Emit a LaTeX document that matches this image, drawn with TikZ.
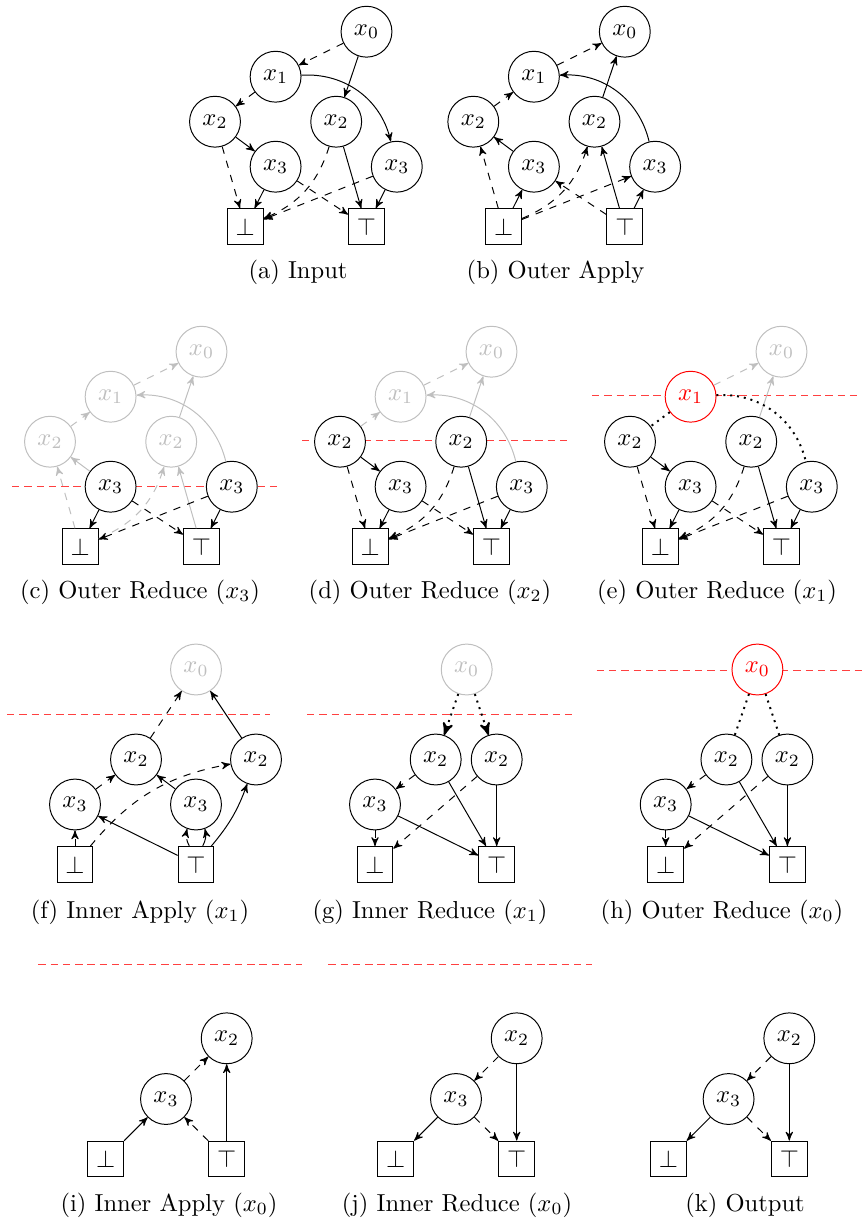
\documentclass[tikz,border=0pt]{standalone}
\usetikzlibrary{arrows}
\tikzset{
  var/.style={circle,draw,fill=white,minimum size=20.7pt,inner sep=0pt},
  term/.style={rectangle,draw,fill=white,minimum size=14.6pt},
  faded/.style={draw=gray!50,text=gray!50},
  picked/.style={draw=red,text=red},
  lo/.style={->,dashed},
  hi/.style={->},
  link/.style={thick,dotted},
  cut/.style={red!75,densely dashed},
}
\begin{document}
\begin{tikzpicture}[x=0.407pt,y=-0.407pt,>=stealth']
  \useasboundingbox (0,0) rectangle (861,1223);
  % (a) input
  \begin{scope}[shift={(215,31.7)}]
    \node[var] (x0) at (151.5,0) {$x_0$};
    \node[var] (x1) at (60.6,45) {$x_1$};
    \node[var] (x2a) at (0,90) {$x_2$};
    \node[var] (x2b) at (121.2,90) {$x_2$};
    \node[var] (x3a) at (60.6,135) {$x_3$};
    \node[var] (x3b) at (181.8,135) {$x_3$};
    \node[term] (f) at (30.3,195) {$\bot$};
    \node[term] (t) at (151.5,195) {$\top$};
    \draw[lo] (x0) -- (x1);
    \draw[hi] (x0) -- (x2b);
    \draw[lo] (x1) -- (x2a);
    \draw[hi] (x1) to[bend left=40] (x3b);
    \draw[hi] (x2a) -- (x3a);
    \draw[lo] (x2a) -- (f);
    \draw[lo] (x2b) to[bend left=25] (f);
    \draw[hi] (x2b) -- (t);
    \draw[hi] (x3a) -- (f);
    \draw[lo] (x3a) -- (t);
    \draw[lo] (x3b) -- (f);
    \draw[hi] (x3b) -- (t);
  \end{scope}
  \node (capa) at (298,272) {(a) Input};
  % (b) outer apply
  \begin{scope}[shift={(473.3,31.7)}]
    \node[var] (x0) at (151.5,0) {$x_0$};
    \node[var] (x1) at (60.6,45) {$x_1$};
    \node[var] (x2a) at (0,90) {$x_2$};
    \node[var] (x2b) at (121.2,90) {$x_2$};
    \node[var] (x3a) at (60.6,135) {$x_3$};
    \node[var] (x3b) at (181.8,135) {$x_3$};
    \node[term] (f) at (30.3,195) {$\bot$};
    \node[term] (t) at (151.5,195) {$\top$};
    \draw[lo] (x1) -- (x0);
    \draw[hi] (x2b) -- (x0);
    \draw[lo] (x2a) -- (x1);
    \draw[hi] (x3b) to[bend right=40] (x1);
    \draw[hi] (x3a) -- (x2a);
    \draw[lo] (f) -- (x2a);
    \draw[lo] (f) to[bend right=25] (x2b);
    \draw[hi] (t) -- (x2b);
    \draw[hi] (f) -- (x3a);
    \draw[lo] (t) -- (x3a);
    \draw[lo] (f) -- (x3b);
    \draw[hi] (t) -- (x3b);
  \end{scope}
  \node (capb) at (555.5,272) {(b) Outer Apply};
  % (c) outer reduce x3
  \begin{scope}[shift={(50,351.7)}]
    \draw[cut] (-38,135) -- (227,135);
    \node[var,faded] (x0) at (151.5,0) {$x_0$};
    \node[var,faded] (x1) at (60.6,45) {$x_1$};
    \node[var,faded] (x2a) at (0,90) {$x_2$};
    \node[var,faded] (x2b) at (121.2,90) {$x_2$};
    \node[var] (x3a) at (60.6,135) {$x_3$};
    \node[var] (x3b) at (181.8,135) {$x_3$};
    \node[term] (f) at (30.3,195) {$\bot$};
    \node[term] (t) at (151.5,195) {$\top$};
    \draw[lo,gray!50] (x1) -- (x0);
    \draw[hi,gray!50] (x2b) -- (x0);
    \draw[lo,gray!50] (x2a) -- (x1);
    \draw[hi,gray!50] (x3b) to[bend right=40] (x1);
    \draw[hi,gray!50] (x3a) -- (x2a);
    \draw[lo,gray!50] (f) -- (x2a);
    \draw[lo,gray!50] (f) to[bend right=25] (x2b);
    \draw[hi,gray!50] (t) -- (x2b);
    \draw[hi] (x3a) -- (f);
    \draw[lo] (x3a) -- (t);
    \draw[lo] (x3b) -- (f);
    \draw[hi] (x3b) -- (t);
  \end{scope}
  \node (capc) at (140,592) {(c) Outer Reduce ($x_3$)};
  % (d) outer reduce x2
  \begin{scope}[shift={(340,351.7)}]
    \draw[cut] (-38,88.5) -- (227,88.5);
    \node[var,faded] (x0) at (151.5,0) {$x_0$};
    \node[var,faded] (x1) at (60.6,45) {$x_1$};
    \node[var] (x2a) at (0,90) {$x_2$};
    \node[var] (x2b) at (121.2,90) {$x_2$};
    \node[var] (x3a) at (60.6,135) {$x_3$};
    \node[var] (x3b) at (181.8,135) {$x_3$};
    \node[term] (f) at (30.3,195) {$\bot$};
    \node[term] (t) at (151.5,195) {$\top$};
    \draw[lo,gray!50] (x1) -- (x0);
    \draw[hi,gray!50] (x2b) -- (x0);
    \draw[lo,gray!50] (x2a) -- (x1);
    \draw[hi,gray!50] (x3b) to[bend right=40] (x1);
    \draw[hi] (x2a) -- (x3a);
    \draw[lo] (x2a) -- (f);
    \draw[lo] (x2b) to[bend left=25] (f);
    \draw[hi] (x2b) -- (t);
    \draw[hi] (x3a) -- (f);
    \draw[lo] (x3a) -- (t);
    \draw[lo] (x3b) -- (f);
    \draw[hi] (x3b) -- (t);
  \end{scope}
  \node (capd) at (430,592) {(d) Outer Reduce ($x_2$)};
  % (e) outer reduce x1
  \begin{scope}[shift={(630,351.7)}]
    \draw[cut] (-38,43.5) -- (227,43.5);
    \node[var,faded] (x0) at (151.5,0) {$x_0$};
    \node[var,picked] (x1) at (60.6,45) {$x_1$};
    \node[var] (x2a) at (0,90) {$x_2$};
    \node[var] (x2b) at (121.2,90) {$x_2$};
    \node[var] (x3a) at (60.6,135) {$x_3$};
    \node[var] (x3b) at (181.8,135) {$x_3$};
    \node[term] (f) at (30.3,195) {$\bot$};
    \node[term] (t) at (151.5,195) {$\top$};
    \draw[lo,gray!50] (x1) -- (x0);
    \draw[hi,gray!50] (x2b) -- (x0);
    \draw[link] (x1) -- (x2a);
    \draw[link] (x1) to[bend left=40] (x3b);
    \draw[hi] (x2a) -- (x3a);
    \draw[lo] (x2a) -- (f);
    \draw[lo] (x2b) to[bend left=25] (f);
    \draw[hi] (x2b) -- (t);
    \draw[hi] (x3a) -- (f);
    \draw[lo] (x3a) -- (t);
    \draw[lo] (x3b) -- (f);
    \draw[hi] (x3b) -- (t);
  \end{scope}
  \node (cape) at (717,592) {(e) Outer Reduce ($x_1$)};
  % (f) inner apply x1
  \begin{scope}[shift={(75,669.5)}]
    \draw[cut] (-68,44.5) -- (195,44.5);
    \node[var,faded] (x0) at (121,0) {$x_0$};
    \node[var] (x2a) at (61,90) {$x_2$};
    \node[var] (x2b) at (181,90) {$x_2$};
    \node[var] (x3a) at (0,135) {$x_3$};
    \node[var] (x3b) at (121,135) {$x_3$};
    \node[term] (f) at (0,195) {$\bot$};
    \node[term] (t) at (121,195) {$\top$};
    \draw[lo] (x2a) -- (x0);
    \draw[hi] (x2b) -- (x0);
    \draw[lo] (x3a) -- (x2a);
    \draw[lo] (f) -- (x3a);
    \draw[lo] (f) to[bend left=20] (x2b);
    \draw[hi] (t) -- (x3a);
    \draw[hi] (x3b) -- (x2a);
    \draw[lo] (t) to[bend left=20] (x3b);
    \draw[hi] (t) to[bend right=20] (x3b);
    \draw[hi] (t) to[bend right=10] (x2b);
  \end{scope}
  \node (capf) at (140,912) {(f) Inner Apply ($x_1$)};
  % (g) inner reduce x1
  \begin{scope}[shift={(375,669.5)}]
    \draw[cut] (-68,44.5) -- (197,44.5);
    \node[var,faded] (x0) at (91.7,0) {$x_0$};
    \node[var] (x2a) at (60.7,90) {$x_2$};
    \node[var] (x2b) at (121.7,90) {$x_2$};
    \node[var] (x3) at (0,135) {$x_3$};
    \node[term] (f) at (0,195) {$\bot$};
    \node[term] (t) at (121.7,195) {$\top$};
    \draw[link,->] (x0) -- (x2a);
    \draw[link,->] (x0) -- (x2b);
    \draw[lo] (x2a) -- (x3);
    \draw[hi] (x2a) -- (t);
    \draw[lo] (x2b) -- (f);
    \draw[hi] (x2b) -- (t);
    \draw[lo] (x3) -- (f);
    \draw[hi] (x3) -- (t);
  \end{scope}
  \node (capg) at (430,912) {(g) Inner Reduce ($x_1$)};
  % (h) outer reduce x0
  \begin{scope}[shift={(665.7,669.5)}]
    \draw[cut] (-69,0.5) -- (196,0.5);
    \node[var,picked] (x0) at (91.7,0) {$x_0$};
    \node[var] (x2a) at (60.7,90) {$x_2$};
    \node[var] (x2b) at (121.7,90) {$x_2$};
    \node[var] (x3) at (0,135) {$x_3$};
    \node[term] (f) at (0,195) {$\bot$};
    \node[term] (t) at (121.7,195) {$\top$};
    \draw[link] (x0) -- (x2a);
    \draw[link] (x0) -- (x2b);
    \draw[lo] (x2a) -- (x3);
    \draw[hi] (x2a) -- (t);
    \draw[lo] (x2b) -- (f);
    \draw[hi] (x2b) -- (t);
    \draw[lo] (x3) -- (f);
    \draw[hi] (x3) -- (t);
  \end{scope}
  \node (caph) at (722,912) {(h) Outer Reduce ($x_0$)};
  % (i) inner apply x0
  \begin{scope}[shift={(105.7,1159)}]
    \draw[cut] (-67.4,-195) -- (196,-195);
    \node[var] (x2) at (121,-120.7) {$x_2$};
    \node[var] (x3) at (60.3,-60) {$x_3$};
    \node[term] (f) at (0,0) {$\bot$};
    \node[term] (t) at (121,0) {$\top$};
    \draw[hi] (f) -- (x3);
    \draw[lo] (t) -- (x3);
    \draw[lo] (x3) -- (x2);
    \draw[hi] (t) -- (x2);
  \end{scope}
  \node (capi) at (169,1205) {(i) Inner Apply ($x_0$)};
  % (j) inner reduce x0
  \begin{scope}[shift={(395.7,1159)}]
    \draw[cut] (-67.4,-195) -- (196,-195);
    \node[var] (x2) at (121,-120.7) {$x_2$};
    \node[var] (x3) at (60.3,-60) {$x_3$};
    \node[term] (f) at (0,0) {$\bot$};
    \node[term] (t) at (121,0) {$\top$};
    \draw[lo] (x2) -- (x3);
    \draw[hi] (x2) -- (t);
    \draw[hi] (x3) -- (f);
    \draw[lo] (x3) -- (t);
  \end{scope}
  \node (capj) at (457,1205) {(j) Inner Reduce ($x_0$)};
  % (k) output
  \begin{scope}[shift={(668.3,1159)}]
    \node[var] (x2) at (121,-120.7) {$x_2$};
    \node[var] (x3) at (60.3,-60) {$x_3$};
    \node[term] (f) at (0,0) {$\bot$};
    \node[term] (t) at (121,0) {$\top$};
    \draw[lo] (x2) -- (x3);
    \draw[hi] (x2) -- (t);
    \draw[hi] (x3) -- (f);
    \draw[lo] (x3) -- (t);
  \end{scope}
  \node (capk) at (745,1205) {(k) Output};
\end{tikzpicture}
\end{document}
